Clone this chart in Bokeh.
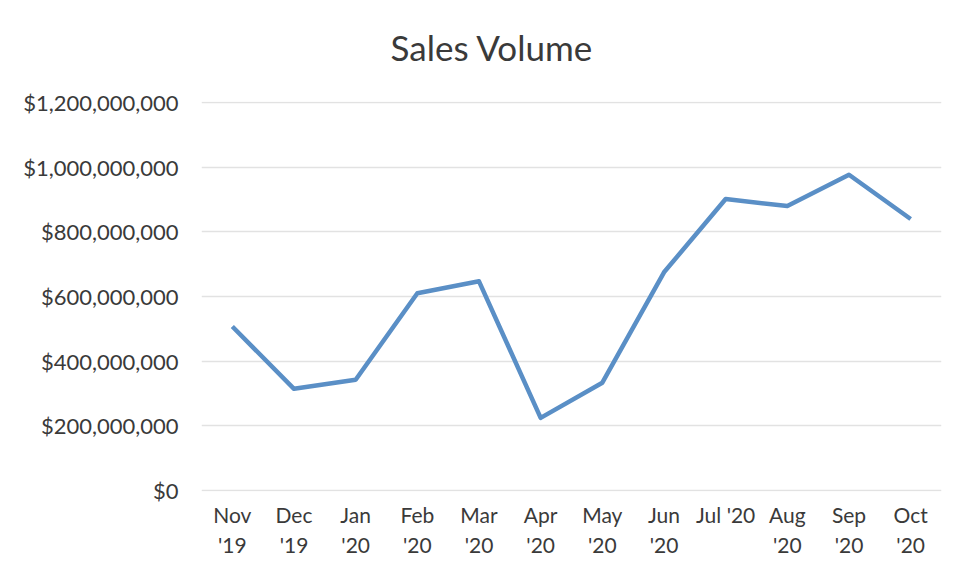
from bokeh.plotting import figure
from bokeh.models import FactorRange, Range1d, FixedTicker, NumeralTickFormatter, CategoricalAxis
from bokeh.embed import file_html
from bokeh.resources import INLINE

months = ["Nov\n'19", "Dec\n'19", "Jan\n'20", "Feb\n'20", "Mar\n'20", "Apr\n'20",
          "May\n'20", "Jun\n'20", "Jul '20", "Aug\n'20", "Sep\n'20", "Oct\n'20"]
sales = [507e6, 314e6, 342e6, 610e6, 647e6, 224e6,
         333e6, 675e6, 902e6, 880e6, 977e6, 840e6]
y_ticks = [0, 200e6, 400e6, 600e6, 800e6, 1000e6, 1200e6]
title_text = "Sales Volume"

FONT = "Lato"
TXT = "#3a3a3a"

p = figure(width=946, height=559, output_backend="svg", toolbar_location=None,
           x_range=FactorRange(*months, range_padding=0), y_range=Range1d(-4e6, 1204e6),
           min_border_left=201, min_border_right=5, min_border_top=101, min_border_bottom=68)

p.line(x=months, y=sales, line_color="#5a8fc6", line_width=4.5, line_join="round")

# invisible spacer axis between the frame and the title
spacer = CategoricalAxis(major_label_text_font_size="1px", major_label_standoff=0,
                         major_label_text_color=None,
                         axis_line_color=None, major_tick_line_color=None,
                         minor_tick_line_color=None, major_tick_out=27, major_tick_in=0,
                         minor_tick_out=0, axis_label_standoff=0)
p.add_layout(spacer, "above")

p.title.text = title_text
p.title.align = "left"
p.title.offset = 189
p.title.vertical_align = "top"
p.title.standoff = 10
p.title.text_font = FONT
p.title.text_font_size = "35px"
p.title.text_font_style = "normal"
p.title.text_color = TXT

p.outline_line_color = None
p.xgrid.grid_line_color = None
p.ygrid.grid_line_color = "#e2e2e2"
p.ygrid.grid_line_width = 1.5

p.yaxis.ticker = FixedTicker(ticks=y_ticks)
p.yaxis.formatter = NumeralTickFormatter(format="$0,0")

for ax in (p.below[0], p.left[0]):
    ax.axis_line_color = None
    ax.major_tick_line_color = None
    ax.minor_tick_line_color = None
    ax.major_tick_out = 0
    ax.major_tick_in = 0
    ax.minor_tick_out = 0
    ax.major_label_text_font = FONT
    ax.major_label_text_color = TXT
p.left[0].major_label_text_font_size = "22px"
p.below[0].major_label_text_font_size = "21px"
p.left[0].major_label_standoff = 23
p.below[0].major_label_standoff = 10

open("out.html", "w").write(file_html(p, INLINE))
